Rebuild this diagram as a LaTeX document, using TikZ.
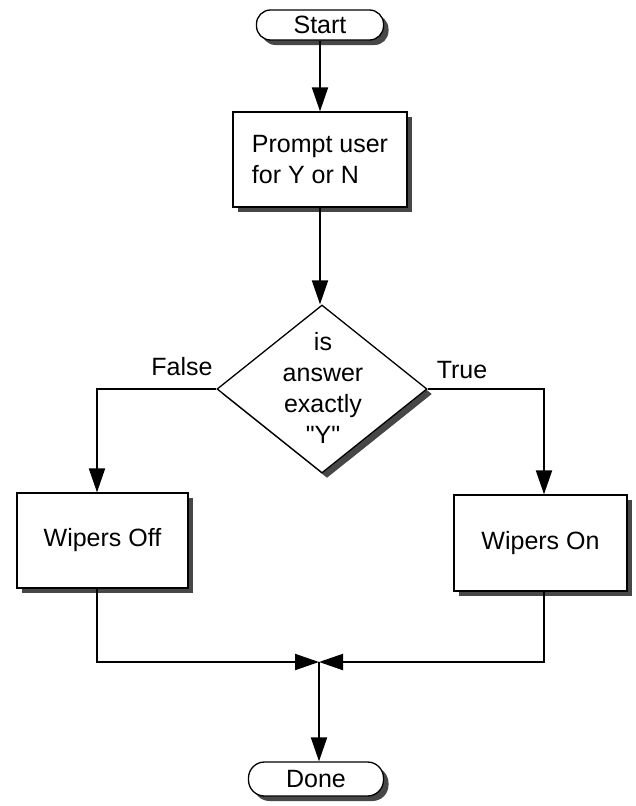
\documentclass[tikz,border=0pt]{standalone}
\usepackage{fontspec}
\setmainfont{Liberation Sans}[Ligatures=TeXOff]
\usetikzlibrary{arrows.meta,shapes.geometric,shadows}

\tikzset{
  shade/.style={general shadow={shadow xshift=5pt,shadow yshift=-5pt,fill=black!72}},
  terminal/.style={draw,line width=1.3pt,fill=white,rounded corners=14pt,shade,
    inner sep=0pt,font=\fontsize{25}{31}\selectfont},
  procbox/.style={draw,line width=1.3pt,fill=white,shade,inner sep=0pt,
    font=\fontsize{25}{31}\selectfont},
  decision/.style={draw,line width=1.3pt,fill=white,shade,diamond,inner sep=0pt},
  txt/.style={font=\fontsize{25}{31}\selectfont,inner sep=0pt},
  flow/.style={line width=2pt,-{Triangle[length=24pt,width=16pt]}},
  link/.style={line width=2pt}
}

\begin{document}
\begin{tikzpicture}[x=1pt,y=-1pt]
  \useasboundingbox (0,0) rectangle (636,806);

  % nodes
  \node[terminal,minimum width=127pt,minimum height=30pt] (start) at (320,25) {Start};
  \node[procbox,minimum width=174pt,minimum height=95pt,align=left] (prompt) at (320,159.5)
    {Prompt user\\for Y or N};
  \node[decision,minimum width=210pt,minimum height=168pt] (dec) at (322,389) {};
  \node[txt,align=center] (dectext) at (323,388) {is\\answer\\exactly\\"Y"};
  \node[procbox,minimum width=171pt,minimum height=95pt] (off) at (102.5,540.5) {Wipers Off};
  \node[procbox,minimum width=173pt,minimum height=96pt] (on) at (540.5,543) {Wipers On};
  \node[terminal,minimum width=135pt,minimum height=34pt,rounded corners=16pt] (done) at (316,779) {Done};
  \coordinate (join) at (319,662);

  % branch labels
  \node[txt,anchor=base] (flabel) at (182,375) {False};
  \node[txt,anchor=base] (tlabel) at (462,378) {True};

  % connectors
  \draw[flow] (start) -- (prompt);
  \draw[flow] (prompt.south) -- (prompt.south |- dec.north);
  \draw[flow] (dec.west) -| ([xshift=-5.5pt]off.north);
  \draw[flow] (dec.east) -| ([xshift=3.5pt]on.north);
  \draw[flow] ([xshift=-5.5pt]off.south) |- (join);
  \draw[flow] ([xshift=3.5pt]on.south) |- (join);
  \draw[flow] (join) -- (join |- done.north);
\end{tikzpicture}
\end{document}
